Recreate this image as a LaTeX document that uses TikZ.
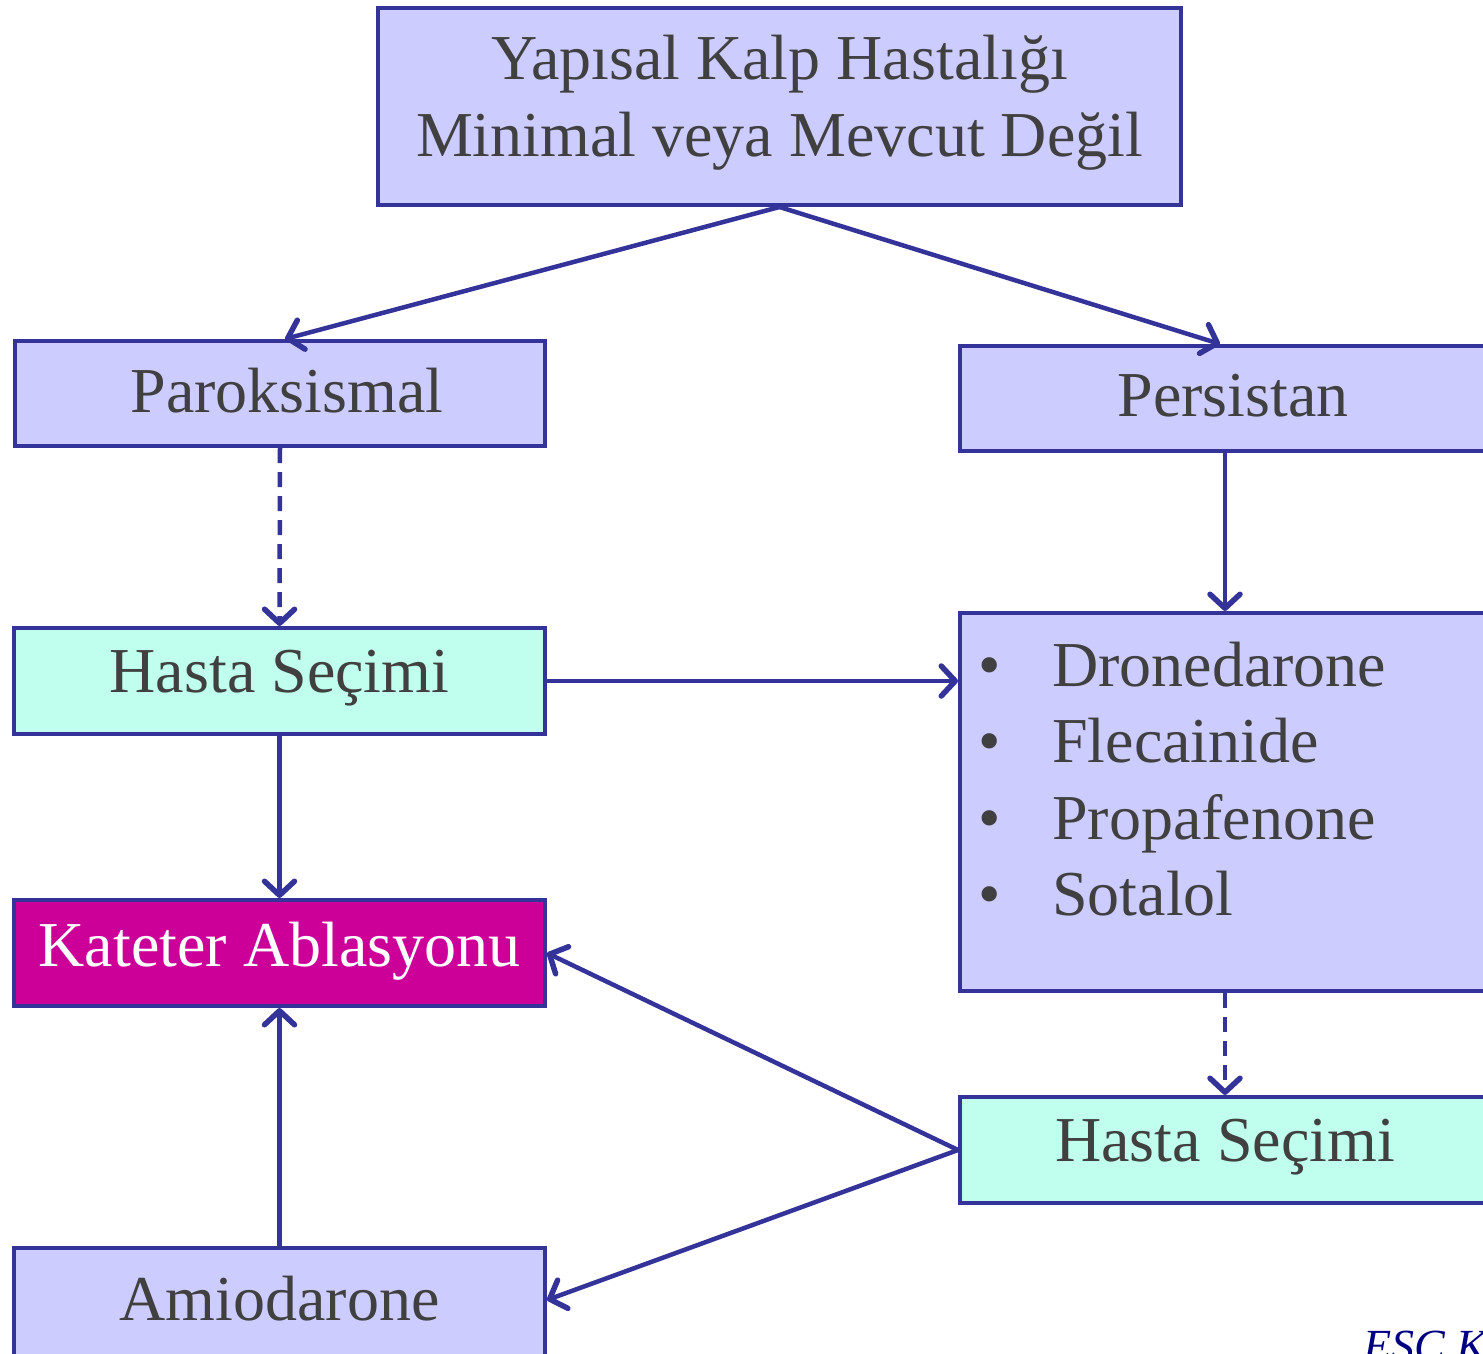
\documentclass[tikz,border=0pt]{standalone}
\usepackage{fontspec}
\setmainfont{Liberation Serif}
\usetikzlibrary{arrows.meta,calc}
\definecolor{boxfill}{HTML}{CCCCFF}
\definecolor{boxline}{HTML}{333399}
\definecolor{selfill}{HTML}{C0FFEE}
\definecolor{ablfill}{HTML}{CC0099}
\definecolor{txt}{HTML}{404040}
\definecolor{navy}{HTML}{000080}
\begin{document}
\begin{tikzpicture}[x=1pt,y=-1pt,
  box/.style={draw=boxline,line width=4pt,fill=boxfill,rectangle,inner sep=0pt,
    text=txt,font=\fontsize{64}{77}\selectfont,align=center},
  selbox/.style={box,fill=selfill},
  ablbox/.style={box,fill=ablfill,text=white},
  conn/.style={draw=boxline,line width=4.5pt,
    -{Straight Barb[length=14pt,width=30pt,line width=5.5pt,round]}},
  dconn/.style={conn,dash pattern=on 15pt off 9pt},
  item/.style={text=txt,font=\fontsize{64}{77}\selectfont,inner sep=0pt,align=center}]
\useasboundingbox (0,0) rectangle (1483,1354);

% boxes
\node[box,minimum width=803pt,minimum height=197pt] (top) at (779.5,106.5) {};
\node[item] (topt) at (779.5,103) {Yapısal Kalp Hastalığı\\Minimal veya Mevcut Değil};
\node[box,minimum width=530pt,minimum height=105pt] (parok) at (280,393.5) {};
\node[item] (parokt) at (287,391) {Paroksismal};
\node[box,minimum width=540pt,minimum height=105pt] (pers) at (1230,398.5) {};
\node[item] (perst) at (1233,396) {Persistan};
\node[selbox,minimum width=531pt,minimum height=106pt] (selL) at (279.5,681) {};
\node[item] (selLt) at (279.5,678) {Hasta Seçimi};
\node[box,minimum width=540pt,minimum height=378pt] (drugs) at (1230,802) {};
\node[ablbox,minimum width=531pt,minimum height=106pt] (abl) at (279.5,953) {};
\node[item,text=white] (ablt) at (279.5,951) {Kateter Ablasyonu};
\node[selbox,minimum width=540pt,minimum height=106pt] (selR) at (1230,1150) {};
\node[item] (selRt) at (1225,1147) {Hasta Seçimi};
\node[box,minimum width=531pt,minimum height=112pt] (amio) at (279.5,1304) {};
\node[item] (amiot) at (279.5,1299) {Amiodarone};

% drug list
\foreach \i/\d/\y in {1/Dronedarone/686,2/Flecainide/762,3/Propafenone/839,4/Sotalol/915}{
  \node[item,anchor=base] (b\i) at (990,\y) {\textbullet};
  \node[item,anchor=base west] (d\i) at (1052,\y) {\d};
}

% source note
\node[anchor=base west,inner sep=0pt,text=navy,font=\fontsize{46}{50}\selectfont\itshape] (src) at (1363,1361) {ESC Kılavuzu};

% connectors
\draw[conn] (top.south) -- ($(parok.north)+(5,0)$);
\draw[conn] (top.south) -- ($(pers.north)+(-10,0)$);
\draw[dconn] (parok.south) -- (selL.north);
\draw[conn] ($(pers.south)+(-5,0)$) -- ($(drugs.north)+(-5,0)$);
\draw[conn] (selL.east) -- (selL.east -| drugs.west);
\draw[conn] (selL.south) -- (abl.north);
\draw[dconn] ($(drugs.south)+(-5,0)$) -- ($(selR.north)+(-5,0)$);
\draw[conn] (selR.west) -- (abl.east);
\draw[conn] (selR.west) -- ($(amio.east)+(0,-4)$);
\draw[conn] (amio.north) -- (abl.south);
\end{tikzpicture}
\end{document}
